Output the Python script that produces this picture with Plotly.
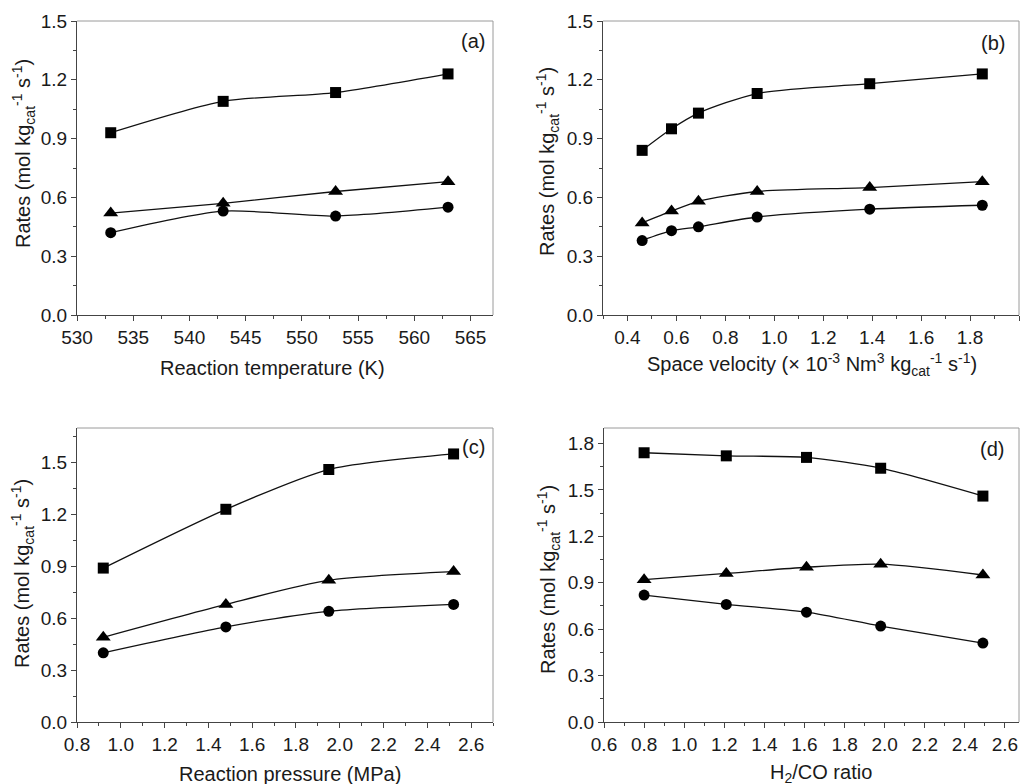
import plotly.graph_objects as go

# ---- data ----
temp_K = [533, 543, 553, 563]
temp_sq = [0.93, 1.09, 1.135, 1.23]
temp_tri = [0.52, 0.57, 0.63, 0.68]
temp_cir = [0.42, 0.53, 0.505, 0.55]

sv = [0.46, 0.58, 0.69, 0.93, 1.39, 1.85]
sv_sq = [0.84, 0.95, 1.03, 1.13, 1.18, 1.23]
sv_tri = [0.47, 0.53, 0.58, 0.63, 0.65, 0.68]
sv_cir = [0.38, 0.43, 0.45, 0.50, 0.54, 0.56]

press = [0.92, 1.48, 1.95, 2.52]
press_sq = [0.89, 1.23, 1.46, 1.55]
press_tri = [0.49, 0.68, 0.82, 0.87]
press_cir = [0.40, 0.55, 0.64, 0.68]

ratio = [0.80, 1.21, 1.61, 1.98, 2.49]
ratio_sq = [1.74, 1.72, 1.71, 1.64, 1.46]
ratio_tri = [0.92, 0.96, 1.00, 1.02, 0.95]
ratio_cir = [0.82, 0.76, 0.71, 0.62, 0.51]

panel_labels = ["(a)", "(b)", "(c)", "(d)"]
x_titles = [
    "Reaction temperature (K)",
    "Space velocity (× 10<sup>-3</sup> Nm<sup>3</sup> kg<sub>cat</sub><sup>-1</sup> s<sup>-1</sup>)",
    "Reaction pressure (MPa)",
    "H<sub>2</sub>/CO ratio",
]
y_title = "Rates (mol kg<sub>cat</sub><sup>-1</sup> s<sup>-1</sup>)"

panels = [
    (temp_K, temp_sq, temp_tri, temp_cir),
    (sv, sv_sq, sv_tri, sv_cir),
    (press, press_sq, press_tri, press_cir),
    (ratio, ratio_sq, ratio_tri, ratio_cir),
]

# ---- layout geometry (page pixels; page body has an 8px margin) ----
OFF = 8
W, H = 1032 - OFF, 784 - OFF
boxes = [(77, 493, 21, 315), (603, 1019, 21, 315), (77, 493, 428, 722), (604, 1019, 428, 722)]
x_ranges = [[530, 567], [0.3, 2.0], [0.8, 2.7], [0.6, 2.67]]
x_tick0 = [530, 0.4, 0.8, 0.6]
x_dticks = [5, 0.2, 0.2, 0.2]
x_formats = ["d", ".1f", ".1f", ".1f"]
y_ranges = [[0, 1.5], [0, 1.5], [0, 1.7], [0, 1.9]]
label_pos = [(0.986, 0.932), (0.971, 0.925), (0.986, 0.935), (0.969, 0.929)]
xtitle_pos = [(272, 368), (812, 365), (290, 774), (821, 773)]   # page px (center)
ytitle_pos = [(23, 154), (548, 162), (22, 574), (548, 580)]     # page px (center)

FONT = "Liberation Sans, Arial, sans-serif"
TXT = "#1a1a1a"
AXC = "#444444"
FRAMEC = "#9a9a9a"


def px2paper(px, py):
    return (px - OFF) / W, 1 - (py - OFF) / H


fig = go.Figure()
markers = [("square", 11), ("triangle-up", 13), ("circle", 11)]

shapes = []
annotations = []
for i, (xs, sq, tri, cir) in enumerate(panels):
    n = i + 1
    xa = "x" if n == 1 else f"x{n}"
    ya = "y" if n == 1 else f"y{n}"
    for ys, (sym, sz) in zip([sq, tri, cir], markers):
        fig.add_trace(go.Scatter(
            x=xs, y=ys, xaxis=xa, yaxis=ya, mode="lines+markers",
            line=dict(color="#111111", width=1.3, shape="spline", smoothing=0.7),
            marker=dict(symbol=sym, size=sz, color="black"),
            showlegend=False, hoverinfo="skip",
        ))
    x0, x1, yt, yb = boxes[i]
    xdom = [(x0 - OFF) / W, (x1 - OFF) / W]
    ydom = [1 - (yb - OFF) / H, 1 - (yt - OFF) / H]
    kx = "xaxis" if n == 1 else f"xaxis{n}"
    ky = "yaxis" if n == 1 else f"yaxis{n}"
    common = dict(
        showline=True, linecolor=AXC, linewidth=1, mirror=False,
        ticks="outside", ticklen=5, tickwidth=1, tickcolor=AXC,
        showgrid=False, zeroline=False, automargin=False,
        tickfont=dict(family=FONT, size=19, color=TXT),
    )
    fig.layout[kx] = dict(
        domain=xdom, anchor=ya, range=x_ranges[i], dtick=x_dticks[i],
        tick0=x_tick0[i], tickformat=x_formats[i],
        minor=dict(dtick=x_dticks[i] / 2, tick0=x_tick0[i], ticklen=3, tickcolor=AXC,
                   ticks="outside", showgrid=False),
        **common,
    )
    fig.layout[ky] = dict(
        domain=ydom, anchor=xa, range=y_ranges[i], dtick=0.3, tick0=0,
        tickformat=".1f",
        minor=dict(dtick=0.15, tick0=0, ticklen=3, tickcolor=AXC, ticks="outside", showgrid=False),
        **common,
    )
    # top & right frame lines
    shapes.append(dict(type="line", xref=f"{xa} domain", yref=f"{ya} domain",
                       x0=0, x1=1, y0=1, y1=1, line=dict(color=FRAMEC, width=1)))
    shapes.append(dict(type="line", xref=f"{xa} domain", yref=f"{ya} domain",
                       x0=1, x1=1, y0=0, y1=1, line=dict(color=FRAMEC, width=1)))
    lx, ly = label_pos[i]
    annotations.append(dict(text=panel_labels[i], xref=f"{xa} domain", yref=f"{ya} domain",
                            x=lx, y=ly, xanchor="right", yanchor="middle", showarrow=False,
                            font=dict(family=FONT, size=20, color=TXT)))
    # axis titles as annotations (placed like the original)
    tx, ty = px2paper(*xtitle_pos[i])
    annotations.append(dict(text=x_titles[i], xref="paper", yref="paper", x=tx, y=ty,
                            xanchor="center", yanchor="middle", showarrow=False,
                            font=dict(family=FONT, size=20, color=TXT)))
    tx, ty = px2paper(*ytitle_pos[i])
    annotations.append(dict(text=y_title, xref="paper", yref="paper", x=tx, y=ty,
                            xanchor="center", yanchor="middle", showarrow=False, textangle=-90,
                            font=dict(family=FONT, size=20, color=TXT)))

fig.update_layout(
    width=W, height=H, margin=dict(l=0, r=0, t=0, b=0, autoexpand=False),
    paper_bgcolor="white", plot_bgcolor="white",
    shapes=shapes, annotations=annotations,
    font=dict(family=FONT, color=TXT),
)
fig.write_html("out.html")
